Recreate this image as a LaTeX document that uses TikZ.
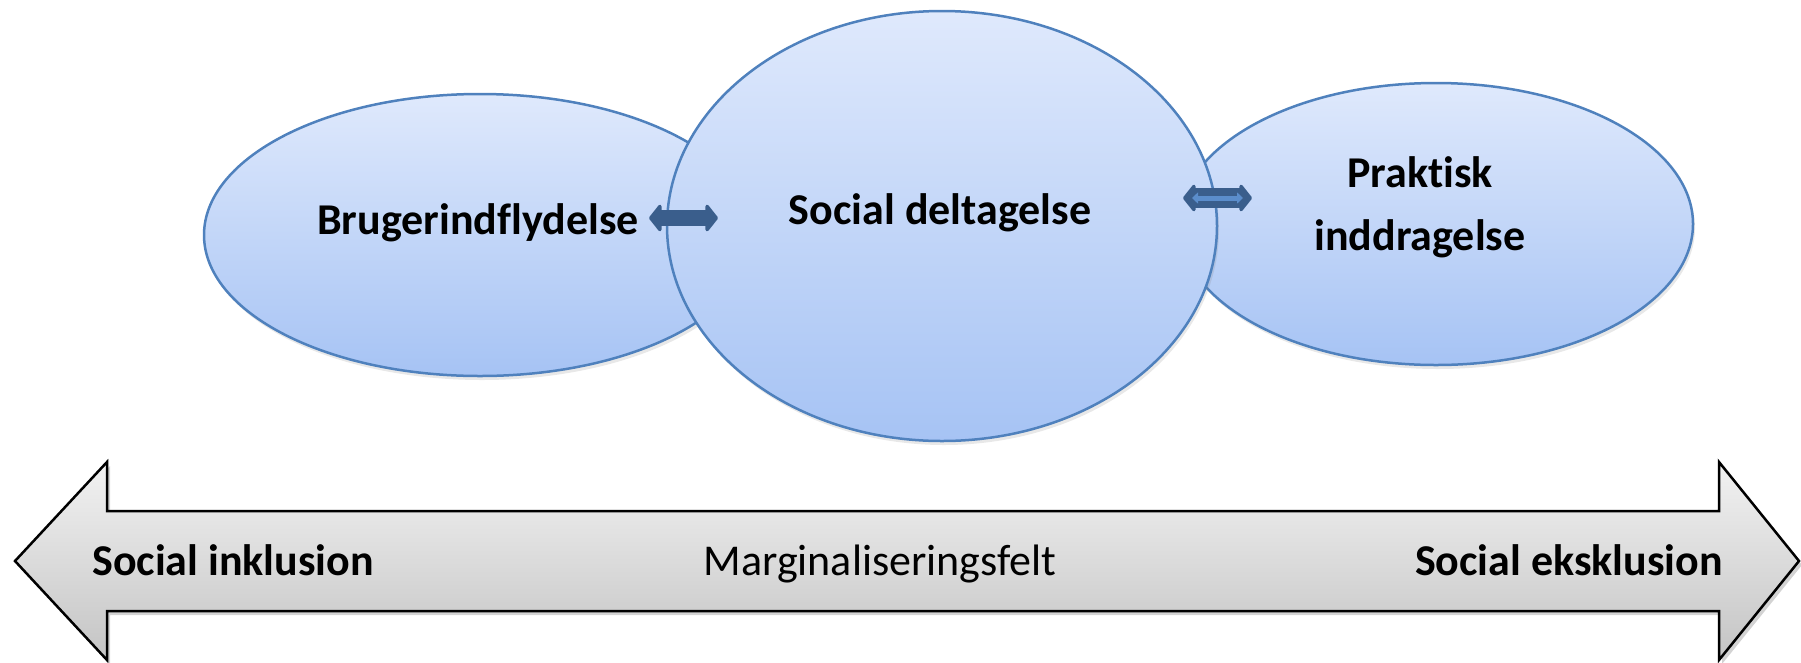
\documentclass[tikz,border=0pt]{standalone}
\usepackage{fontspec}
\setmainfont{Carlito}[Ligatures=NoCommon]
\usetikzlibrary{shapes.geometric,arrows.meta,shadows}
\definecolor{ellline}{HTML}{4F81BD}
\definecolor{elltop}{HTML}{DFE9FC}
\definecolor{ellbot}{HTML}{A6C3F4}
\definecolor{arrdark}{HTML}{3A5E8C}
\definecolor{arrlight}{HTML}{5B8DCB}
\definecolor{bartop}{HTML}{F2F2F2}
\definecolor{barbot}{HTML}{C4C4C4}
\tikzset{
  bubble/.style={ellipse, draw=ellline, line width=2.5pt, top color=elltop, bottom color=ellbot, inner sep=0pt,
    drop shadow={opacity=0.18, shadow xshift=2pt, shadow yshift=-4pt}},
  lab/.style={font=\bfseries\fontsize{44}{63}\selectfont, align=center, anchor=base, inner sep=0pt},
  link/.style={arrdark, line width=16pt, {Triangle[round,width=32pt,length=13pt]}-{Triangle[round,width=32pt,length=13pt]}},
  linkin/.style={arrlight, line width=5pt, {Triangle[width=11pt,length=6pt]}-{Triangle[width=11pt,length=6pt]}}
}
\begin{document}
\begin{tikzpicture}[x=1pt,y=-1pt]
\useasboundingbox (0,0) rectangle (1801,662);
\path[draw=black, line width=2.5pt, top color=bartop, bottom color=barbot,
  drop shadow={opacity=0.35, shadow xshift=3pt, shadow yshift=-4pt}]
  (15,561) -- (107,462) -- (107,511) -- (1719,511) -- (1719,462) -- (1799,561)
  -- (1719,660) -- (1719,611) -- (107,611) -- (107,660) -- cycle;
\node[lab, anchor=base west] (incl) at (92,575) {Social inklusion};
\node[lab, font=\fontsize{44}{63}\selectfont] (marg) at (880,575) {Marginaliseringsfelt};
\node[lab, anchor=base east] (ekskl) at (1723,575) {Social eksklusion};
\node[bubble, minimum width=552pt, minimum height=282pt] (brug) at (480,235) {};
\node[bubble, minimum width=514pt, minimum height=282pt] (prak) at (1436,224) {};
\node[bubble, minimum width=550pt, minimum height=430pt] (soc) at (942,226) {};
\node[lab] (brugtxt) at (478,234) {Brugerindflydelse};
\node[lab] (soctxt) at (940,224) {Social deltagelse};
\node[lab] (praktxt) at (1420,250) {Praktisk\\inddragelse};
\coordinate (l1) at (649,218);
\coordinate (l2) at (718,218);
\coordinate (r1) at (1183,198);
\coordinate (r2) at (1252,198);
\draw[link] (l1) -- (l2);
\draw[link, line width=20pt] (r1) -- (r2);
\draw[linkin, shorten <=9pt, shorten >=9pt] (r1) -- (r2);
\end{tikzpicture}
\end{document}
